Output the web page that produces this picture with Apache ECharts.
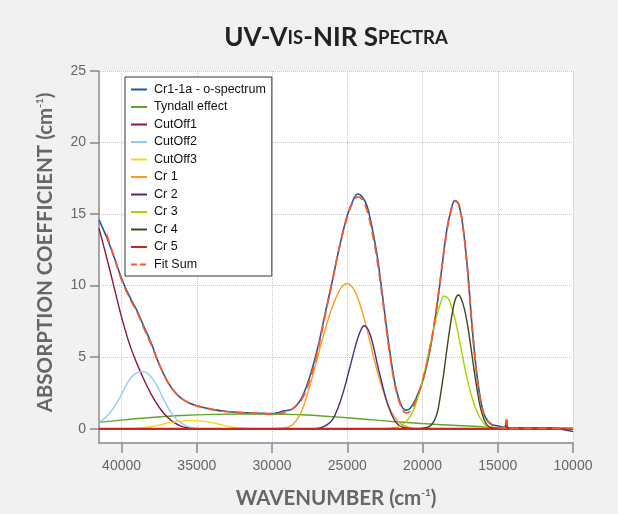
<!DOCTYPE html>
<html>
<head>
<meta charset="utf-8">
<script src="https://cdn.jsdelivr.net/npm/echarts@6/dist/echarts.min.js"></script>
<style>html,body{margin:0;padding:0;background:#f1f1f1;}#c{width:618px;height:514px;}</style>
</head>
<body>
<div id="c"></div>
<script>
// ---- data (wavenumber cm-1, absorption coefficient cm-1) ----
const xTicks = [10000, 15000, 20000, 25000, 30000, 35000, 40000];
const yTicks = [0, 5, 10, 15, 20, 25];

const spectrum = [[41500,14.6],[41000,13.4],[40500,12.0],[40000,10.5],[39500,9.3],[39000,8.3],[38500,7.1],[38000,5.9],[37500,4.5],[37000,3.4],[36500,2.6],[36000,2.1],[35500,1.8],[35000,1.6],[34000,1.35],[33000,1.2],[32000,1.12],[31000,1.08],[30000,1.05],[29500,1.15],[29200,1.25],[28800,1.3],[28400,1.6],[28000,2.2],[27500,3.6],[27000,5.5],[26500,7.9],[26000,10.3],[25500,12.8],[25000,14.9],[24600,16.0],[24300,16.4],[24000,16.2],[23700,15.6],[23400,14.3],[23000,12.0],[22600,8.8],[22200,5.6],[21800,3.0],[21400,1.6],[21100,1.3],[20800,1.45],[20400,2.2],[20000,3.3],[19600,5.0],[19200,7.4],[18800,10.5],[18400,13.8],[18100,15.3],[17850,15.95],[17600,15.7],[17300,14.0],[17000,11.0],[16700,7.1],[16400,3.9],[16100,1.8],[15800,0.75],[15400,0.3],[15000,0.2],[14700,0.12],[14400,0.08],[13500,0.04],[12500,0.02],[11500,0.06],[11000,0.0],[10500,-0.1],[10000,-0.2]];

const tyndall = [[41500,0.44],[40000,0.6],[38000,0.78],[36000,0.92],[34000,1.0],[32000,1.03],[30000,1.02],[28000,0.97],[26000,0.84],[24000,0.68],[22000,0.5],[20000,0.36],[18000,0.24],[16000,0.13],[14000,0.07],[12000,0.04],[10000,0.02]];

const cutOff1 = [[41500,14.0],[41000,12.0],[40500,9.9],[40000,7.8],[39500,6.0],[39000,4.6],[38500,3.4],[38000,2.35],[37500,1.5],[37000,0.85],[36500,0.42],[36000,0.16],[35500,0.04],[35000,0.0],[10000,0]];

const cutOff2 = [[41500,0.45],[41000,0.85],[40500,1.5],[40000,2.4],[39500,3.4],[39000,3.9],[38600,4.0],[38200,3.8],[37700,3.1],[37200,2.05],[36700,1.1],[36200,0.5],[35700,0.2],[35200,0.06],[34500,0],[10000,0]];

const cutOff3 = [[41500,0],[39500,0],[38700,0.05],[38000,0.15],[37500,0.25],[37000,0.38],[36500,0.47],[36000,0.54],[35400,0.58],[34800,0.55],[34300,0.48],[33700,0.36],[33200,0.23],[32700,0.12],[32100,0.05],[31500,0.01],[31000,0],[10000,0]];

const cr1 = [[41500,0],[30000,0],[29300,0.05],[28800,0.16],[28400,0.55],[28000,1.3],[27600,2.6],[27200,4.1],[26800,5.7],[26400,7.2],[26000,8.5],[25600,9.5],[25300,10.0],[25000,10.15],[24700,9.95],[24400,9.4],[24100,8.5],[23800,7.4],[23500,6.1],[23200,4.8],[22900,3.6],[22600,2.6],[22300,1.7],[22000,1.05],[21700,0.6],[21400,0.3],[21000,0.12],[20500,0.03],[20000,0],[10000,0]];

const cr2 = [[41500,0],[27200,0],[26800,0.05],[26400,0.25],[26000,0.6],[25600,1.5],[25200,2.8],[24800,4.4],[24400,6.0],[24100,6.9],[23880,7.2],[23600,6.9],[23300,5.9],[23000,4.5],[22700,3.2],[22400,2.0],[22100,1.1],[21800,0.5],[21500,0.2],[21100,0.05],[20600,0],[10000,0]];

const cr3 = [[41500,0],[22500,0],[22000,0.05],[21500,0.18],[21000,0.6],[20600,1.3],[20300,2.2],[20000,3.4],[19700,4.8],[19400,6.3],[19100,7.7],[18800,8.8],[18570,9.27],[18300,9.1],[18000,8.3],[17700,7.0],[17400,5.4],[17100,3.8],[16800,2.5],[16500,1.5],[16200,0.8],[15900,0.35],[15600,0.12],[15200,0.03],[14800,0],[10000,0]];

const cr4 = [[41500,0],[20300,0],[19900,0.05],[19500,0.18],[19200,0.6],[19000,1.2],[18800,2.4],[18600,3.8],[18400,5.4],[18200,6.9],[18000,8.2],[17800,9.1],[17600,9.34],[17400,9.0],[17200,8.3],[17000,7.2],[16800,5.8],[16600,4.3],[16400,2.9],[16200,1.7],[16000,0.9],[15800,0.4],[15600,0.15],[15300,0.03],[15000,0],[10000,0]];

const cr5 = [[41500,0],[14500,0],[14440,0.05],[14410,0.63],[14380,0.05],[14300,0],[10000,0]];

const fitSum = [[41000,13.6],[40500,12.0],[40000,10.4],[39500,9.2],[39000,8.2],[38500,7.0],[38000,5.8],[37500,4.5],[37000,3.4],[36500,2.6],[36000,2.1],[35500,1.8],[35000,1.6],[34000,1.35],[33000,1.2],[32000,1.12],[31000,1.07],[30000,1.02],[29500,1.05],[29000,1.2],[28500,1.5],[28000,2.1],[27500,3.4],[27000,5.3],[26500,7.8],[26000,10.3],[25500,12.8],[25000,14.8],[24600,15.9],[24300,16.2],[24000,16.0],[23700,15.3],[23400,14.0],[23000,11.7],[22600,8.6],[22200,5.4],[21800,2.9],[21400,1.5],[21100,1.1],[20800,1.25],[20400,2.1],[20000,3.3],[19600,5.1],[19200,7.5],[18800,10.6],[18400,13.7],[18100,15.3],[17850,15.9],[17600,15.7],[17300,14.0],[17000,11.0],[16700,7.0],[16400,3.8],[16100,1.7],[15800,0.7],[15400,0.25],[15000,0.1],[14600,0.05],[14450,0.05],[14410,0.65],[14370,0.05],[14000,0.03],[13000,0.02],[10000,0.02]];

const seriesDefs = [
  {name: 'Cr1-1a - o-spectrum', data: spectrum, color: '#1c5a9c', width: 1.6, smooth: true},
  {name: 'Tyndall effect', data: tyndall, color: '#5ea52a', width: 1.4, smooth: true},
  {name: 'CutOff1', data: cutOff1, color: '#8a1740', width: 1.4, smooth: true},
  {name: 'CutOff2', data: cutOff2, color: '#8fcdf4', width: 1.4, smooth: true},
  {name: 'CutOff3', data: cutOff3, color: '#ffd21c', width: 1.4, smooth: true},
  {name: 'Cr 1', data: cr1, color: '#ff9a1e', width: 1.4, smooth: true},
  {name: 'Cr 2', data: cr2, color: '#4e2a7e', width: 1.4, smooth: true},
  {name: 'Cr 3', data: cr3, color: '#a8d400', width: 1.4, smooth: true},
  {name: 'Cr 4', data: cr4, color: '#3b4a1c', width: 1.4, smooth: true},
  {name: 'Cr 5', data: cr5, color: '#d0201a', width: 2, smooth: false},
  {name: 'Fit Sum', data: fitSum, color: '#ff5528', width: 1.8, smooth: true, dash: [9, 5]}
];

const chart = echarts.init(document.getElementById('c'), null, {renderer: 'canvas'});
const gray = '#666';
const nameRich = {
  n: {fontFamily: 'Lato', fontWeight: 'bold', fontSize: 20.5, color: gray},
  sup: {fontFamily: 'Lato', fontWeight: 'bold', fontSize: 10, color: gray, verticalAlign: 'top', padding: [0, 0, 7, 0]}
};
chart.setOption({
  backgroundColor: '#f1f1f1',
  animation: false,
  title: {
    text: '{b|UV-V}{s|IS}{b|-NIR S}{s|PECTRA}',
    left: 331, top: 20, textAlign: 'center',
    textStyle: {
      rich: {
        b: {fontFamily: 'Lato', fontWeight: 'bold', fontSize: 26, color: '#222'},
        s: {fontFamily: 'Lato', fontWeight: 'bold', fontSize: 18.5, color: '#222'}
      }
    }
  },
  grid: {left: 99, right: 45, top: 71, bottom: 71, containLabel: false, show: true, backgroundColor: '#fff', borderWidth: 0},
  legend: {
    orient: 'vertical', left: 125, top: 77,
    backgroundColor: '#fff', borderColor: '#333', borderWidth: 1,
    padding: [6, 6, 5, 5],
    itemWidth: 16, itemHeight: 14, itemGap: 4.5,
    itemStyle: {opacity: 0},
    textStyle: {fontFamily: 'Liberation Sans', fontSize: 12.5, color: '#111', padding: [0, 0, 0, 2]},
    data: seriesDefs.map(d => d.dash ? {name: d.name, lineStyle: {type: [6, 3]}} : d.name)
  },
  xAxis: {
    type: 'value', inverse: true, min: 10000, max: 41500,
    name: '{n|WAVENUMBER (cm}{sup|-1}{n|)}', nameLocation: 'middle', nameGap: 45,
    nameTextStyle: {rich: nameRich},
    axisLine: {onZero: false, lineStyle: {color: '#888', width: 1.5}},
    axisTick: {customValues: xTicks, length: 10, lineStyle: {color: '#888', width: 1.5}},
    axisLabel: {customValues: xTicks, margin: 16, color: gray, fontFamily: 'Liberation Sans', fontSize: 14, formatter: v => String(v)},
    splitLine: {show: true, lineStyle: {color: '#c8c8c8', type: 'dotted', width: 1}}
  },
  yAxis: {
    type: 'value', min: -1, max: 25,
    name: '{n|ABSORPTION COEFFICIENT (cm}{sup|-1}{n|)}', nameLocation: 'middle', nameGap: 43,
    nameTextStyle: {rich: nameRich, padding: [0, 0, 0, 9]},
    axisLine: {onZero: false, lineStyle: {color: '#888', width: 1.5}},
    axisTick: {customValues: yTicks, length: 9, lineStyle: {color: '#888', width: 1.5}},
    axisLabel: {customValues: yTicks, margin: 13, color: gray, fontFamily: 'Liberation Sans', fontSize: 14},
    splitLine: {show: true, lineStyle: {color: '#c8c8c8', type: 'dotted', width: 1}}
  },
  series: seriesDefs.map(d => ({
    name: d.name, type: 'line', data: d.data, symbol: 'none', smooth: d.smooth ? 0.4 : false,
    color: d.color,
    lineStyle: {color: d.color, width: d.width, type: d.dash || 'solid'},
    emphasis: {disabled: true}
  }))
});
</script>
</body>
</html>
